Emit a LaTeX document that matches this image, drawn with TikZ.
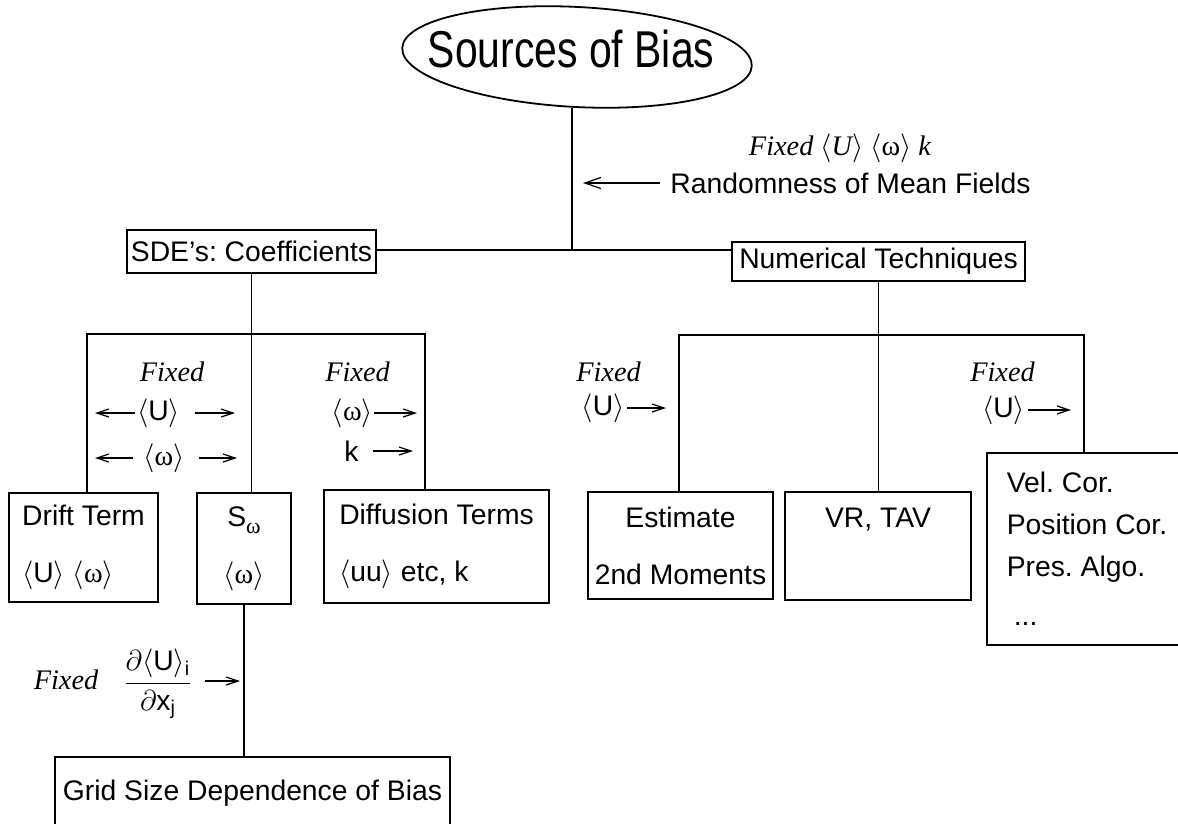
\documentclass[tikz,border=0pt]{standalone}
\usepackage{amsmath}
\usepackage{fontspec}
\setmainfont{Liberation Sans}
\newfontfamily\tms{Liberation Serif}
\newfontfamily\ttl[FakeStretch=0.79]{Liberation Sans}
\usetikzlibrary{arrows.meta,shapes.geometric}
\newcommand{\mean}[1]{$\langle$#1$\rangle$}
\newcommand{\omg}{{\tms\upshape ω}}
\frenchspacing
\begin{document}
\begin{tikzpicture}[x=0.5pt,y=-0.5pt,
  box/.style={draw, line width=0.9pt, inner sep=0pt, font=\fontsize{14.15}{28.5}\selectfont},
  lbl/.style={inner sep=0pt, font=\fontsize{14.15}{17}\selectfont},
  fx/.style={inner sep=0pt, font=\fontsize{14.15}{17}\selectfont\tms\itshape},
  conn/.style={line width=0.8pt},
  arr/.style={line width=0.6pt, -{Straight Barb[length=6pt,width=4pt]}},
  arrbig/.style={line width=0.6pt, -{Straight Barb[length=8pt,width=5.5pt]}}]
\clip (0,0) rectangle (1178,824);
\fill[white] (0,0) rectangle (1178,824);

% title
\node[draw, ellipse, line width=0.9pt, minimum width=175pt, minimum height=50pt, inner sep=0pt, rotate=-3] (src) at (577,57) {};
\node[inner sep=0pt, font=\fontsize{25.9}{30}\selectfont\ttl] (srct) at (571,49) {Sources of Bias};

% level 1
\node[box, minimum width=124.5pt, minimum height=21.5pt] (sde) at (251.5,251.5) {SDE’s: Coefficients};
\node[box, minimum width=146.5pt, minimum height=19.5pt] (num) at (878.5,261.5) {Numerical Techniques};
\coordinate (j1) at (572,250);
\draw[conn] (src.south -| j1) -- (j1);
\draw[conn] (sde.east |- j1) -- (num.west |- j1);

\node[lbl, anchor=west] (rand) at (670,183) {Randomness of Mean Fields};
\coordinate (ra) at (583,183);
\draw[arrbig] ([xshift=-5pt]rand.west) -- (ra);
\node[fx] (fixtop) at (840,148) {Fixed \mean{U} \mean{\omg} k};

% left tree
\node[box, align=left, minimum width=74.5pt, minimum height=54.5pt] (drift) at (83.5,547.5) {Drift Term\\\mean{U} \mean{\omg}};
\node[box, align=center, minimum width=47pt, minimum height=55.5pt] (sbox) at (244,548.5) {S\raisebox{-0.45ex}{\fontsize{11}{11}\selectfont\omg}\\\mean{\omg}};
\node[box, align=left, minimum width=112.5pt, minimum height=56.5pt] (diff) at (436.5,546.5) {Diffusion Terms\\\mean{uu} etc, k};
\coordinate (L1) at (87,334);
\coordinate (L3) at (425,334);
\draw[conn] (sde.south) -- (sde.south |- sbox.north);
\draw[conn] (L1 |- drift.north) -- (L1) -- (L3) -- (L3 |- diff.north);

\node[fx] (fxa) at (172,372) {Fixed};
\node[lbl] (ua) at (158.5,413) {\mean{U}};
\coordinate (ua1) at (95,413);
\coordinate (ua2) at (235,413);
\draw[arr] ([xshift=-1pt]ua.west) -- (ua1);
\draw[arr] ([xshift=7.5pt]ua.east) -- (ua2);
\node[lbl] (wa) at (164,458) {\mean{\omg}};
\coordinate (wa1) at (95,458);
\coordinate (wa2) at (237,458);
\draw[arr] ([xshift=-5pt]wa.west) -- (wa1);
\draw[arr] ([xshift=7pt]wa.east) -- (wa2);

\node[fx] (fxb) at (357.5,372) {Fixed};
\node[lbl] (wb) at (352.5,413) {\mean{\omg}};
\coordinate (wb1) at (417,413);
\draw[arr] ([xshift=0.5pt]wb.east) -- (wb1);
\node[lbl] (kb) at (351.5,451) {k};
\coordinate (kb1) at (413,451);
\draw[arr] ([xshift=7pt]kb.east) -- (kb1);

% right tree
\node[box, align=center, minimum width=92.5pt, minimum height=53.5pt] (est) at (680.5,545.5) {Estimate\\2nd Moments};
\node[box, align=center, minimum width=93pt, minimum height=54pt] (vr) at (878,546) {VR, TAV\\\mbox{}};
\node[box, align=left, minimum width=100pt, minimum height=96pt, font=\fontsize{14.15}{21}\selectfont] (vel) at (1087,549) {Vel. Cor.\\Position Cor.\\Pres. Algo.\\[3.5pt]\hspace*{3.5pt}...};
\coordinate (R1) at (679,335);
\coordinate (R3) at (1084,335);
\draw[conn] (num.south) -- (num.south |- vr.north);
\draw[conn] (R1 |- est.north) -- (R1) -- (R3) -- (R3 |- vel.north);

\node[fx] (fxc) at (608.5,372) {Fixed};
\node[lbl] (uc) at (603,408) {\mean{U}};
\coordinate (uc1) at (666,408);
\draw[arr] ([xshift=1pt]uc.east) -- (uc1);
\node[fx] (fxd) at (1002.5,372) {Fixed};
\node[lbl] (ud) at (1003.5,410) {\mean{U}};
\coordinate (ud1) at (1071,410);
\draw[arr] ([xshift=1.5pt]ud.east) -- (ud1);

% bottom
\node[box, minimum width=197.5pt, minimum height=36.5pt] (grid) at (252.5,793.5) {Grid Size Dependence of Bias};
\draw[conn] (sbox.south) -- (sbox.south |- grid.north);
\node[fx] (fxe) at (66,680) {Fixed};
\node[lbl] (frac) at (158,684) {$\dfrac{\partial\langle\text{U}\rangle_{\text{i}}}{\partial\text{x}_{\text{j}}}$};
\coordinate (fr1) at (240,681);
\draw[arr] (frac.east |- fr1) ++(12,0) -- (fr1);
\end{tikzpicture}
\end{document}
